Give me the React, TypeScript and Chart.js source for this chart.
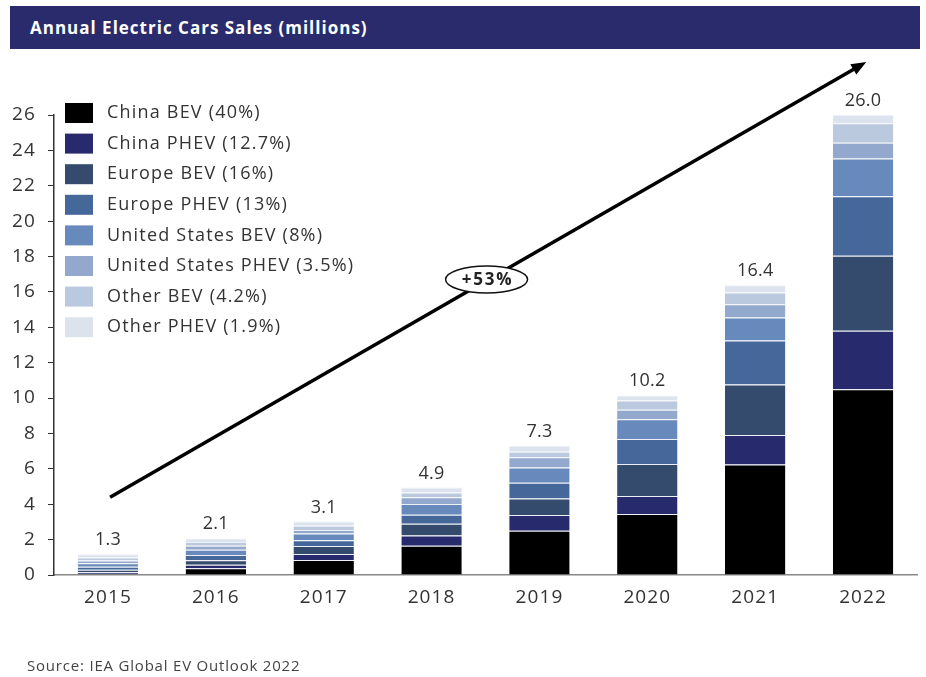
import React, { useEffect, useRef } from "react";
import { Chart, registerables } from "chart.js";
Chart.register(...registerables);

const years = ["2015", "2016", "2017", "2018", "2019", "2020", "2021", "2022"];
const chinaBEV = [0.05, 0.38, 0.85, 1.66, 2.5, 3.45, 6.25, 10.5];
const chinaPHEV = [0.1, 0.2, 0.34, 0.57, 0.89, 1.02, 1.66, 3.3];
const europeBEV = [0.15, 0.25, 0.45, 0.66, 0.94, 1.81, 2.86, 4.24];
const europePHEV = [0.17, 0.3, 0.33, 0.51, 0.88, 1.4, 2.49, 3.37];
const usBEV = [0.2, 0.3, 0.38, 0.62, 0.87, 1.13, 1.3, 2.13];
const usPHEV = [0.15, 0.22, 0.19, 0.38, 0.57, 0.53, 0.75, 0.89];
const otherBEV = [0.17, 0.22, 0.25, 0.26, 0.32, 0.53, 0.66, 1.1];
const otherPHEV = [0.18, 0.2, 0.23, 0.28, 0.34, 0.28, 0.41, 0.47];
const totalLabels = ["1.3", "2.1", "3.1", "4.9", "7.3", "10.2", "16.4", "26.0"];
const seriesLabels = [
  "China BEV (40%)",
  "China PHEV (12.7%)",
  "Europe BEV (16%)",
  "Europe PHEV (13%)",
  "United States BEV (8%)",
  "United States PHEV (3.5%)",
  "Other BEV (4.2%)",
  "Other PHEV (1.9%)",
];
const seriesColors = ["#000000", "#282a6e", "#344b6d", "#45679a", "#6889bb", "#92a8cc", "#bbc9df", "#dde3ee"];
const growthLabel = "+53%";
const titleText = "Annual Electric Cars Sales (millions)";
const sourceText = "Source: IEA Global EV Outlook 2022";
const FONT = '"Open Sans", "Noto Sans", sans-serif';

export default function App() {
  const ref = useRef<HTMLCanvasElement>(null);
  useEffect(() => {
    const series = [chinaBEV, chinaPHEV, europeBEV, europePHEV, usBEV, usPHEV, otherBEV, otherPHEV];
    const spacing = {
      id: "spacing",
      beforeDraw(chart: any) {
        chart.ctx.letterSpacing = "1.1px";
      },
    };
    const overlay = {
      id: "overlay",
      afterDraw(chart: any) {
        const ctx = chart.ctx;
        const xs = chart.scales.x;
        const ys = chart.scales.y;
        ctx.save();
        // totals
        ctx.letterSpacing = "0.2px";
        ctx.fillStyle = "#333";
        ctx.font = `18px ${FONT}`;
        ctx.textAlign = "center";
        ctx.textBaseline = "alphabetic";
        years.forEach((_, i) => {
          const sum = series.reduce((a, s) => a + s[i], 0);
          ctx.fillText(totalLabels[i], xs.getPixelForValue(i), ys.getPixelForValue(sum) - 9);
        });
        // legend
        ctx.letterSpacing = "1.2px";
        chart.data.datasets.forEach((ds: any, i: number) => {
          const top = 103 + i * 30.6;
          ctx.fillStyle = ds.backgroundColor;
          ctx.fillRect(65, top, 28, 20);
          ctx.fillStyle = "#333";
          ctx.textAlign = "left";
          ctx.textBaseline = "middle";
          ctx.font = `18px ${FONT}`;
          ctx.fillText(ds.label, 107, top + 10);
        });
        // arrow
        const x0 = xs.getPixelForValue(0.02);
        const y0 = ys.getPixelForValue(4.4);
        const x1 = xs.getPixelForValue(7.03);
        const y1 = ys.getPixelForValue(29.0);
        const ang = Math.atan2(y1 - y0, x1 - x0);
        const hl = 15;
        ctx.strokeStyle = "#000";
        ctx.lineWidth = 3.5;
        ctx.beginPath();
        ctx.moveTo(x0, y0);
        ctx.lineTo(x1 - hl * 0.8 * Math.cos(ang), y1 - hl * 0.8 * Math.sin(ang));
        ctx.stroke();
        ctx.fillStyle = "#000";
        ctx.beginPath();
        ctx.moveTo(x1, y1);
        ctx.lineTo(x1 - hl * Math.cos(ang) + 6 * Math.sin(ang), y1 - hl * Math.sin(ang) - 6 * Math.cos(ang));
        ctx.lineTo(x1 - hl * Math.cos(ang) - 6 * Math.sin(ang), y1 - hl * Math.sin(ang) + 6 * Math.cos(ang));
        ctx.closePath();
        ctx.fill();
        // ellipse label
        const ex = xs.getPixelForValue(3.51);
        const ey = ys.getPixelForValue(16.7);
        ctx.beginPath();
        ctx.ellipse(ex, ey, 41, 13.5, 0, 0, Math.PI * 2);
        ctx.fillStyle = "#fff";
        ctx.fill();
        ctx.lineWidth = 1.5;
        ctx.strokeStyle = "#111";
        ctx.stroke();
        ctx.letterSpacing = "1.8px";
        ctx.fillStyle = "#222";
        ctx.font = `bold 17px ${FONT}`;
        ctx.textAlign = "center";
        ctx.textBaseline = "middle";
        ctx.fillText(growthLabel, ex + 1, ey + 1);
        ctx.restore();
        ctx.letterSpacing = "0px";
      },
    };
    const chart = new Chart(ref.current as HTMLCanvasElement, {
      type: "bar",
      data: {
        labels: years,
        datasets: series.map((s, i) => ({
          label: seriesLabels[i],
          data: s,
          backgroundColor: seriesColors[i],
          borderColor: "rgba(235,238,245,0.9)",
          borderWidth: { top: 1, bottom: 0, left: 0, right: 0 },
          borderSkipped: false,
          barPercentage: 0.56,
          categoryPercentage: 1,
        })),
      },
      options: {
        responsive: false,
        devicePixelRatio: 1,
        animation: false,
        layout: { padding: { top: 115, right: 9, left: 0, bottom: 0 } },
        plugins: { legend: { display: false }, tooltip: { enabled: false } },
        scales: {
          x: {
            stacked: true,
            grid: { drawOnChartArea: false, drawTicks: false },
            border: { color: "#888", width: 1.5 },
            ticks: { color: "#333", padding: 11, font: { size: 19, family: FONT } },
            afterFit: (s: any) => { s.height = 102; },
          },
          y: {
            stacked: true,
            min: 0,
            max: 26,
            grid: { drawOnChartArea: false, drawTicks: true, tickLength: 6, color: "#333" },
            border: { color: "#333", width: 1.5 },
            ticks: { stepSize: 2, padding: 12, color: "#333", font: { size: 19, family: FONT } },
            afterFit: (s: any) => { s.width = 54; },
          },
        },
      },
      plugins: [spacing, overlay],
    } as any);
    return () => chart.destroy();
  }, []);
  return (
    <div style={{ position: "fixed", left: 0, top: 0, width: 926, height: 677, background: "#fff" }}>
      <canvas ref={ref} width={926} height={677} style={{ position: "absolute", left: 0, top: 0 }} />
      <div
        style={{
          position: "absolute",
          left: 10,
          top: 6,
          width: 910,
          height: 43,
          background: "#2a2b6c",
          color: "#fff",
          fontFamily: FONT,
          fontWeight: 700,
          fontSize: 17,
          letterSpacing: "1px",
          display: "flex",
          alignItems: "center",
          paddingLeft: 20,
          boxSizing: "border-box",
        }}
      >
        {titleText}
      </div>
      <div
        style={{
          position: "absolute",
          left: 27,
          top: 655,
          fontFamily: FONT,
          fontSize: 15,
          letterSpacing: "0.8px",
          color: "#444",
        }}
      >
        {sourceText}
      </div>
    </div>
  );
}
